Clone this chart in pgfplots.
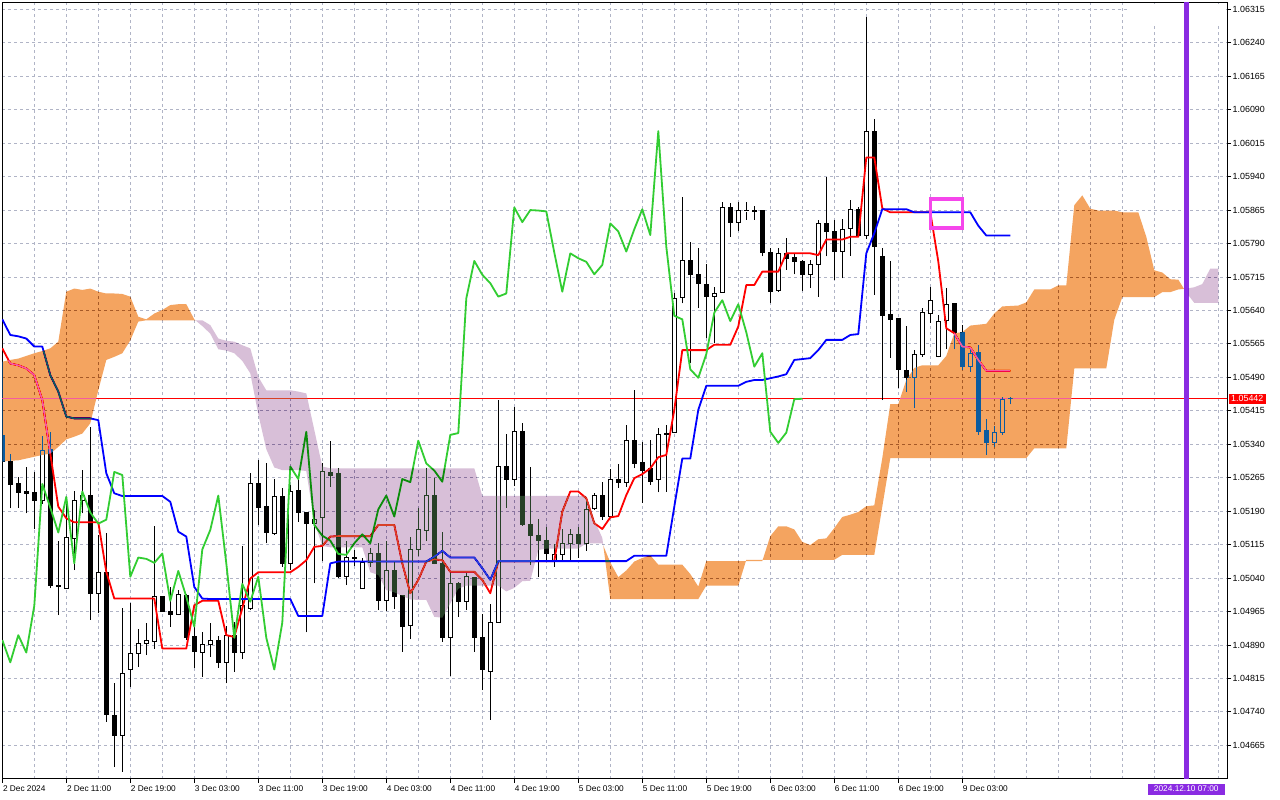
\documentclass[border=0pt]{standalone}
\usepackage{fontspec}
\setmainfont{Liberation Sans}
\usepackage{pgfplots}
\usepackage{pgfplotstable}
\pgfplotsset{compat=1.18}
\usepgfplotslibrary{fillbetween}

\definecolor{gridc}{RGB}{176,180,198}
\definecolor{tenkan}{RGB}{255,0,0}
\definecolor{kijun}{RGB}{0,0,255}
\definecolor{chikou}{RGB}{50,205,50}
\definecolor{upmask}{RGB}{11,91,159}
\definecolor{dnmask}{RGB}{39,64,39}
\definecolor{vline}{RGB}{138,43,226}
\definecolor{boxc}{RGB}{245,70,235}

\pgfplotstableread{
i O H L C
0 1.05359 1.05362 1.05298 1.05301
1 1.05301 1.05319 1.05196 1.05250
2 1.05251 1.05267 1.05198 1.05232
3 1.05233 1.05288 1.05185 1.05230
4 1.05231 1.05278 1.05149 1.05215
5 1.05215 1.05358 1.05207 1.05325
6 1.05328 1.05367 1.05017 1.05023
7 1.05024 1.05123 1.04957 1.05020
8 1.05017 1.05222 1.05017 1.05131
9 1.05129 1.05236 1.05058 1.05215
10 1.05215 1.05282 1.05185 1.05224
11 1.05226 1.05379 1.04946 1.05005
12 1.05005 1.05136 1.04961 1.05053
13 1.05053 1.05142 1.04718 1.04733
14 1.04731 1.04804 1.04616 1.04688
15 1.04688 1.04972 1.04606 1.04826
16 1.04834 1.04985 1.04796 1.04871
17 1.04871 1.04926 1.04841 1.04893
18 1.04893 1.04940 1.04867 1.04899
19 1.04897 1.05157 1.04882 1.04998
20 1.04998 1.05000 1.04964 1.04966
21 1.04964 1.05020 1.04931 1.04958
22 1.04958 1.05013 1.04957 1.05004
23 1.05002 1.05004 1.04901 1.04906
24 1.04908 1.04938 1.04839 1.04876
25 1.04873 1.04918 1.04819 1.04890
26 1.04890 1.04940 1.04864 1.04901
27 1.04901 1.04911 1.04839 1.04851
28 1.04851 1.04933 1.04804 1.04912
29 1.04911 1.04942 1.04830 1.04873
30 1.04873 1.05112 1.04858 1.04978
31 1.04972 1.05275 1.04968 1.05251
32 1.05251 1.05304 1.05159 1.05198
33 1.05201 1.05297 1.05118 1.05142
34 1.05140 1.05262 1.05136 1.05222
35 1.05222 1.05241 1.05065 1.05073
36 1.05073 1.05248 1.05059 1.05234
37 1.05236 1.05266 1.05166 1.05187
38 1.05187 1.05189 1.04918 1.05162
39 1.05162 1.05192 1.05028 1.05171
40 1.05176 1.05298 1.05078 1.05278
41 1.05277 1.05347 1.05245 1.05271
42 1.05275 1.05286 1.05041 1.05043
43 1.05043 1.05123 1.05024 1.05086
44 1.05086 1.05103 1.05068 1.05083
45 1.05017 1.05084 1.05017 1.05074
46 1.05074 1.05107 1.05065 1.05095
47 1.05095 1.05118 1.04968 1.04989
48 1.04989 1.05122 1.04966 1.05056
49 1.05056 1.05077 1.04971 1.04998
50 1.05000 1.05002 1.04875 1.04931
51 1.04933 1.05133 1.04903 1.05104
52 1.05104 1.05196 1.05089 1.05148
53 1.05146 1.05286 1.05123 1.05225
54 1.05225 1.05264 1.05071 1.05073
55 1.05073 1.05144 1.04897 1.04906
56 1.04906 1.05052 1.04821 1.05027
57 1.05027 1.05032 1.04953 1.04987
58 1.04987 1.05052 1.04968 1.05043
59 1.05042 1.05043 1.04875 1.04906
60 1.04907 1.04959 1.04789 1.04835
61 1.04830 1.04982 1.04722 1.04940
62 1.04940 1.05439 1.04940 1.05290
63 1.05290 1.05364 1.05198 1.05262
64 1.05262 1.05424 1.05246 1.05368
65 1.05368 1.05387 1.05157 1.05159
66 1.05159 1.05288 1.05069 1.05135
67 1.05136 1.05172 1.05043 1.05124
68 1.05125 1.05154 1.05075 1.05094
69 1.05077 1.05116 1.05065 1.05092
70 1.05092 1.05151 1.05077 1.05118
71 1.05118 1.05151 1.05080 1.05138
72 1.05138 1.05155 1.05086 1.05118
73 1.05118 1.05215 1.05101 1.05194
74 1.05196 1.05231 1.05193 1.05225
75 1.05225 1.05256 1.05170 1.05178
76 1.05178 1.05284 1.05174 1.05262
77 1.05262 1.05295 1.05243 1.05255
78 1.05255 1.05383 1.05245 1.05348
79 1.05348 1.05462 1.05286 1.05297
80 1.05300 1.05346 1.05209 1.05281
81 1.05285 1.05350 1.05249 1.05256
82 1.05260 1.05376 1.05232 1.05361
83 1.05361 1.05383 1.05234 1.05365
84 1.05366 1.05678 1.05365 1.05667
85 1.05669 1.05895 1.05656 1.05751
86 1.05753 1.05794 1.05522 1.05720
87 1.05721 1.05779 1.05645 1.05701
88 1.05699 1.05744 1.05578 1.05671
89 1.05672 1.05693 1.05566 1.05678
90 1.05680 1.05884 1.05680 1.05871
91 1.05871 1.05880 1.05805 1.05838
92 1.05838 1.05884 1.05817 1.05865
93 1.05863 1.05882 1.05843 1.05864
94 1.05863 1.05874 1.05843 1.05862
95 1.05863 1.05864 1.05761 1.05770
96 1.05770 1.05779 1.05656 1.05682
97 1.05684 1.05779 1.05682 1.05768
98 1.05768 1.05802 1.05731 1.05757
99 1.05758 1.05766 1.05721 1.05749
100 1.05749 1.05753 1.05684 1.05721
101 1.05721 1.05753 1.05690 1.05742
102 1.05743 1.05843 1.05671 1.05835
103 1.05835 1.05940 1.05761 1.05817
104 1.05817 1.05843 1.05708 1.05772
105 1.05773 1.05845 1.05712 1.05822
106 1.05824 1.05888 1.05763 1.05867
107 1.05867 1.05871 1.05805 1.05809
108 1.05809 1.06297 1.05800 1.06042
109 1.06042 1.06069 1.05675 1.05783
110 1.05762 1.05779 1.05439 1.05628
111 1.05630 1.05751 1.05534 1.05620
112 1.05622 1.05623 1.05465 1.05508
113 1.05506 1.05604 1.05458 1.05489
114 1.05489 1.05551 1.05421 1.05542
115 1.05542 1.05645 1.05536 1.05635
116 1.05634 1.05693 1.05612 1.05663
117 1.05536 1.05630 1.05535 1.05616
118 1.05617 1.05690 1.05553 1.05654
119 1.05656 1.05657 1.05553 1.05591
120 1.05591 1.05607 1.05506 1.05514
121 1.05514 1.05559 1.05503 1.05544
122 1.05545 1.05562 1.05361 1.05368
123 1.05370 1.05396 1.05317 1.05343
124 1.05343 1.05381 1.05333 1.05366
125 1.05366 1.05447 1.05361 1.05441
126 1.05442 1.05447 1.05430 1.05442
}\candles

\pgfplotstableread{
x y
0 1.05555
1 1.05521
2 1.05517
3 1.05510
4 1.05495
5 1.05439
6 1.05319
7 1.05200
8 1.05174
9 1.05165
10 1.05165
11 1.05165
12 1.05165
13 1.05054
14 1.04994
15 1.04994
16 1.04994
17 1.04994
18 1.04994
19 1.04994
20 1.04882
21 1.04882
22 1.04882
23 1.04882
24 1.04979
25 1.04989
26 1.04989
27 1.04989
28 1.04912
29 1.04908
30 1.04972
31 1.05039
32 1.05053
33 1.05053
34 1.05053
35 1.05053
36 1.05053
37 1.05065
38 1.05080
39 1.05110
40 1.05112
41 1.05133
42 1.05134
43 1.05134
44 1.05134
45 1.05134
46 1.05134
47 1.05159
48 1.05159
49 1.05159
50 1.05073
51 1.05006
52 1.05036
53 1.05077
54 1.05082
55 1.05080
56 1.05054
57 1.05054
58 1.05054
59 1.05054
60 1.05036
61 1.05006
62 1.05078
63 1.05078
64 1.05078
65 1.05078
66 1.05078
67 1.05078
68 1.05078
69 1.05078
70 1.05189
71 1.05234
72 1.05234
73 1.05219
74 1.05163
75 1.05150
76 1.05176
77 1.05179
78 1.05226
79 1.05264
80 1.05273
81 1.05286
82 1.05311
83 1.05316
84 1.05417
85 1.05551
86 1.05551
87 1.05551
88 1.05551
89 1.05563
90 1.05563
91 1.05563
92 1.05604
93 1.05697
94 1.05697
95 1.05727
96 1.05727
97 1.05727
98 1.05768
99 1.05768
100 1.05768
101 1.05768
102 1.05764
103 1.05799
104 1.05799
105 1.05799
106 1.05805
107 1.05805
108 1.05983
109 1.05983
110 1.05869
111 1.05860
112 1.05860
113 1.05860
114 1.05860
115 1.05860
116 1.05860
117 1.05750
118 1.05600
119 1.05589
120 1.05559
121 1.05557
122 1.05529
123 1.05505
124 1.05505
125 1.05505
126 1.05505
}\tenkan

\pgfplotstableread{
x y
0 1.05620
1 1.05585
2 1.05582
3 1.05577
4 1.05559
5 1.05559
6 1.05495
7 1.05458
8 1.05402
9 1.05398
10 1.05398
11 1.05398
12 1.05394
13 1.05275
14 1.05230
15 1.05224
16 1.05224
17 1.05224
18 1.05224
19 1.05224
20 1.05224
21 1.05211
22 1.05144
23 1.05133
24 1.05020
25 1.04994
26 1.04993
27 1.04993
28 1.04993
29 1.04993
30 1.04993
31 1.04993
32 1.04993
33 1.04993
34 1.04993
35 1.04993
36 1.04993
37 1.04955
38 1.04955
39 1.04955
40 1.04955
41 1.05073
42 1.05077
43 1.05077
44 1.05077
45 1.05077
46 1.05077
47 1.05077
48 1.05077
49 1.05077
50 1.05077
51 1.05077
52 1.05077
53 1.05077
54 1.05088
55 1.05101
56 1.05086
57 1.05086
58 1.05086
59 1.05086
60 1.05062
61 1.05036
62 1.05078
63 1.05078
64 1.05078
65 1.05078
66 1.05078
67 1.05078
68 1.05078
69 1.05078
70 1.05078
71 1.05078
72 1.05078
73 1.05078
74 1.05078
75 1.05078
76 1.05078
77 1.05078
78 1.05078
79 1.05090
80 1.05090
81 1.05090
82 1.05090
83 1.05090
84 1.05200
85 1.05308
86 1.05308
87 1.05417
88 1.05471
89 1.05471
90 1.05471
91 1.05471
92 1.05471
93 1.05480
94 1.05484
95 1.05484
96 1.05488
97 1.05492
98 1.05497
99 1.05529
100 1.05531
101 1.05533
102 1.05551
103 1.05574
104 1.05574
105 1.05574
106 1.05585
107 1.05587
108 1.05768
109 1.05813
110 1.05867
111 1.05867
112 1.05867
113 1.05867
114 1.05860
115 1.05860
116 1.05860
117 1.05860
118 1.05860
119 1.05860
120 1.05860
121 1.05860
122 1.05830
123 1.05808
124 1.05808
125 1.05808
126 1.05808
}\kijun

\pgfplotstableread{
x y
0 1.04901
1 1.04851
2 1.04912
3 1.04873
4 1.04978
5 1.05251
6 1.05198
7 1.05142
8 1.05222
9 1.05073
10 1.05234
11 1.05187
12 1.05162
13 1.05171
14 1.05278
15 1.05271
16 1.05043
17 1.05086
18 1.05083
19 1.05074
20 1.05095
21 1.04989
22 1.05056
23 1.04998
24 1.04931
25 1.05104
26 1.05148
27 1.05225
28 1.05073
29 1.04906
30 1.05027
31 1.04987
32 1.05043
33 1.04906
34 1.04835
35 1.04940
36 1.05290
37 1.05262
38 1.05368
39 1.05159
40 1.05135
41 1.05124
42 1.05094
43 1.05092
44 1.05118
45 1.05138
46 1.05118
47 1.05194
48 1.05225
49 1.05178
50 1.05262
51 1.05255
52 1.05348
53 1.05297
54 1.05281
55 1.05256
56 1.05361
57 1.05365
58 1.05667
59 1.05751
60 1.05720
61 1.05701
62 1.05671
63 1.05678
64 1.05871
65 1.05838
66 1.05865
67 1.05864
68 1.05862
69 1.05770
70 1.05682
71 1.05768
72 1.05757
73 1.05749
74 1.05721
75 1.05742
76 1.05835
77 1.05817
78 1.05772
79 1.05822
80 1.05867
81 1.05809
82 1.06042
83 1.05783
84 1.05628
85 1.05620
86 1.05508
87 1.05489
88 1.05542
89 1.05635
90 1.05663
91 1.05616
92 1.05654
93 1.05591
94 1.05514
95 1.05544
96 1.05368
97 1.05343
98 1.05366
99 1.05441
100 1.05442
}\chikou

\pgfplotstableread{
x y
0 1.05525
1 1.05529
2 1.05532
3 1.05538
4 1.05544
5 1.05549
6 1.05555
7 1.05570
8 1.05682
9 1.05689
10 1.05686
11 1.05689
12 1.05682
13 1.05678
14 1.05678
15 1.05677
16 1.05671
17 1.05626
18 1.05620
19 1.05633
20 1.05641
21 1.05652
22 1.05654
23 1.05654
24 1.05620
25 1.05605
26 1.05588
27 1.05553
28 1.05550
29 1.05544
30 1.05527
31 1.05499
32 1.05407
33 1.05329
34 1.05288
35 1.05282
36 1.05282
37 1.05282
38 1.05280
39 1.05165
40 1.05112
41 1.05109
42 1.05109
43 1.05109
44 1.05109
45 1.05109
46 1.05053
47 1.05047
48 1.05013
49 1.05008
50 1.05000
51 1.04992
52 1.04991
53 1.04991
54 1.04953
55 1.04951
56 1.04983
57 1.05016
58 1.05023
59 1.05023
60 1.05023
61 1.05023
62 1.05023
63 1.05010
64 1.05018
65 1.05033
66 1.05034
67 1.05103
68 1.05106
69 1.05106
70 1.05106
71 1.05106
72 1.05106
73 1.05118
74 1.05118
75 1.05118
76 1.05075
77 1.05042
78 1.05057
79 1.05077
80 1.05085
81 1.05091
82 1.05070
83 1.05070
84 1.05070
85 1.05070
86 1.05049
87 1.05021
88 1.05078
89 1.05078
90 1.05078
91 1.05078
92 1.05078
93 1.05078
94 1.05078
95 1.05078
96 1.05134
97 1.05156
98 1.05156
99 1.05149
100 1.05121
101 1.05114
102 1.05127
103 1.05129
104 1.05152
105 1.05177
106 1.05182
107 1.05188
108 1.05201
109 1.05203
110 1.05309
111 1.05430
112 1.05430
113 1.05484
114 1.05511
115 1.05517
116 1.05517
117 1.05517
118 1.05538
119 1.05589
120 1.05591
121 1.05606
122 1.05608
123 1.05610
124 1.05633
125 1.05649
126 1.05650
127 1.05651
128 1.05658
129 1.05687
130 1.05687
131 1.05687
132 1.05696
133 1.05696
134 1.05876
135 1.05898
136 1.05868
137 1.05864
138 1.05864
139 1.05864
140 1.05860
141 1.05860
142 1.05860
143 1.05805
144 1.05730
145 1.05725
146 1.05710
147 1.05709
148 1.05680
149 1.05657
150 1.05657
151 1.05657
152 1.05657
}\spanA

\pgfplotstableread{
x y
0 1.05301
1 1.05303
2 1.05304
3 1.05308
4 1.05312
5 1.05316
6 1.05319
7 1.05334
8 1.05351
9 1.05357
10 1.05364
11 1.05387
12 1.05461
13 1.05529
14 1.05536
15 1.05544
16 1.05573
17 1.05615
18 1.05618
19 1.05618
20 1.05618
21 1.05618
22 1.05618
23 1.05618
24 1.05618
25 1.05618
26 1.05607
27 1.05577
28 1.05572
29 1.05570
30 1.05562
31 1.05555
32 1.05491
33 1.05461
34 1.05461
35 1.05461
36 1.05461
37 1.05458
38 1.05454
39 1.05372
40 1.05290
41 1.05286
42 1.05286
43 1.05286
44 1.05286
45 1.05286
46 1.05286
47 1.05286
48 1.05286
49 1.05286
50 1.05286
51 1.05286
52 1.05286
53 1.05286
54 1.05286
55 1.05286
56 1.05286
57 1.05286
58 1.05286
59 1.05286
60 1.05224
61 1.05224
62 1.05224
63 1.05224
64 1.05224
65 1.05224
66 1.05224
67 1.05224
68 1.05224
69 1.05224
70 1.05224
71 1.05224
72 1.05224
73 1.05224
74 1.05170
75 1.05130
76 1.04993
77 1.04993
78 1.04993
79 1.04993
80 1.04993
81 1.04993
82 1.04993
83 1.04993
84 1.04993
85 1.04993
86 1.04993
87 1.04993
88 1.05023
89 1.05023
90 1.05023
91 1.05023
92 1.05023
93 1.05081
94 1.05081
95 1.05081
96 1.05081
97 1.05081
98 1.05081
99 1.05081
100 1.05081
101 1.05081
102 1.05081
103 1.05081
104 1.05081
105 1.05092
106 1.05092
107 1.05092
108 1.05092
109 1.05092
110 1.05200
111 1.05309
112 1.05309
113 1.05309
114 1.05309
115 1.05309
116 1.05309
117 1.05309
118 1.05309
119 1.05309
120 1.05309
121 1.05309
122 1.05309
123 1.05309
124 1.05309
125 1.05309
126 1.05309
127 1.05309
128 1.05309
129 1.05331
130 1.05331
131 1.05331
132 1.05331
133 1.05331
134 1.05510
135 1.05510
136 1.05510
137 1.05510
138 1.05510
139 1.05619
140 1.05670
141 1.05670
142 1.05670
143 1.05670
144 1.05670
145 1.05681
146 1.05681
147 1.05687
148 1.05689
149 1.05692
150 1.05699
151 1.05734
152 1.05734
}\spanB

\begin{document}
\begin{tikzpicture}
\begin{axis}[
  at={(2pt,21pt)}, anchor=south west,
  scale only axis, width=1225pt, height=776pt,
  xmin=-0.0375, xmax=153.09,
  ymin=1.045895, ymax=1.063293,
  axis background/.style={fill=white},
  axis line style={black, line width=1pt},
  clip mode=individual,
  xtick={0,8,16,24,32,40,48,56,64,72,80,88,96,104,112,120},
  xticklabels={2 Dec 2024,2 Dec 11:00,2 Dec 19:00,3 Dec 03:00,3 Dec 11:00,3 Dec 19:00,4 Dec 03:00,4 Dec 11:00,4 Dec 19:00,5 Dec 03:00,5 Dec 11:00,5 Dec 19:00,6 Dec 03:00,6 Dec 11:00,6 Dec 19:00,9 Dec 03:00},
  minor xtick={4,12,20,28,36,44,52,60,68,76,84,92,100,108,116,124,128,132,136,140,144,148,152},
  ytick={1.04665,1.04740,1.04815,1.04890,1.04965,1.05040,1.05115,1.05190,1.05265,1.05340,1.05415,1.05490,1.05565,1.05640,1.05715,1.05790,1.05865,1.05940,1.06015,1.06090,1.06165,1.06240,1.06315},
  yticklabels={1.04665,1.04740,1.04815,1.04890,1.04965,1.05040,1.05115,1.05190,1.05265,1.05340,1.05415,1.05490,1.05565,1.05640,1.05715,1.05790,1.05865,1.05940,1.06015,1.06090,1.06165,1.06240,1.06315},
  xtick pos=bottom, ytick pos=right, yticklabel pos=right,
  tick align=outside,
  major tick length=4pt, minor tick length=0pt,
  tick style={black, line width=0.8pt},
  grid=both,
  major grid style={gridc, dash pattern=on 3pt off 3pt, line width=0.9pt},
  minor grid style={gridc, dash pattern=on 3pt off 3pt, line width=0.9pt},
  xticklabel style={font=\fontsize{8.3}{9}\selectfont, inner sep=0pt, anchor=north west, xshift=0.5pt, yshift=-2.5pt},
  yticklabel style={font=\fontsize{8.9}{9}\selectfont, inner sep=0pt, anchor=west, xshift=1.5pt},
]
% hidden area at top right
\addplot[fill=white, draw=none, forget plot] coordinates {(140.6,1.06327) (152.95,1.06327) (152.95,1.06280) (140.6,1.06280)} -- cycle;
% current price line
\addplot[red, line width=0.8pt, forget plot] coordinates {(-1,1.05442) (154,1.05442)};
% candles
\pgfplotsinvokeforeach{0,...,126}{%
  \pgfplotstablegetelem{#1}{O}\of\candles \let\cO\pgfplotsretval
  \pgfplotstablegetelem{#1}{H}\of\candles \let\cH\pgfplotsretval
  \pgfplotstablegetelem{#1}{L}\of\candles \let\cL\pgfplotsretval
  \pgfplotstablegetelem{#1}{C}\of\candles \let\cC\pgfplotsretval
  \ifdim\cC pt>\cO pt \def\cfill{white}\else\def\cfill{black}\fi
  \pgfmathsetmacro\xa{#1-0.28}%
  \pgfmathsetmacro\xb{#1+0.28}%
  \edef\doit{%
    \noexpand\addplot[black, line width=1pt, forget plot] coordinates {(#1,\cL) (#1,\cH)};%
    \noexpand\addplot[draw=black, fill=\cfill, line width=1pt, forget plot] coordinates {(\xa,\cO) (\xb,\cO) (\xb,\cC) (\xa,\cC)} -- cycle;%
  }\doit
}
% Ichimoku lines
\addplot[tenkan, line width=1.8pt, line join=round, forget plot] table {\tenkan};
\addplot[kijun, line width=1.8pt, line join=round, forget plot] table {\kijun};
\addplot[chikou, line width=1.8pt, line join=round, forget plot] table {\chikou};
% cloud (XOR-like blend as in MetaTrader)
\addplot[draw=none, name path=SA, forget plot] table {\spanA};
\addplot[draw=none, name path=SB, forget plot] table {\spanB};
\addplot[fill=upmask, draw=none, blend mode=difference, forget plot] fill between[of=SA and SB, soft clip={domain=0:24.13}, on layer=axis foreground];
\addplot[fill=dnmask, draw=none, blend mode=difference, forget plot] fill between[of=SA and SB, soft clip={domain=24.13:75.13}, on layer=axis foreground];
\addplot[fill=upmask, draw=none, blend mode=difference, forget plot] fill between[of=SA and SB, soft clip={domain=75.13:147.71}, on layer=axis foreground];
\addplot[fill=dnmask, draw=none, blend mode=difference, forget plot] fill between[of=SA and SB, soft clip={domain=148.29:152}, on layer=axis foreground];
% vertical marker line
\addplot[vline, line width=4.6pt, forget plot] coordinates {(148,1.0455) (148,1.0636)};
% magenta box
\addplot[boxc, line width=3.5pt, forget plot] coordinates {(116,1.05890) (120,1.05890) (120,1.05825) (116,1.05825)} -- cycle;
% labels
\node[anchor=west, fill=red, text=white, font=\fontsize{8.9}{9}\selectfont, inner xsep=2.5pt, inner ysep=2pt, xshift=1.5pt] at (axis cs:153.09,1.05442) {1.05442};
\node[anchor=north, fill=vline, text=white, font=\fontsize{8.3}{9}\selectfont, inner xsep=6pt, inner ysep=2.5pt, yshift=-4.5pt] at (axis cs:148,1.045895) {2024.12.10 07:00};
\end{axis}
\pgfresetboundingbox
\path[use as bounding box] (0,0) rectangle (1280pt,800pt);
\end{tikzpicture}
\end{document}
